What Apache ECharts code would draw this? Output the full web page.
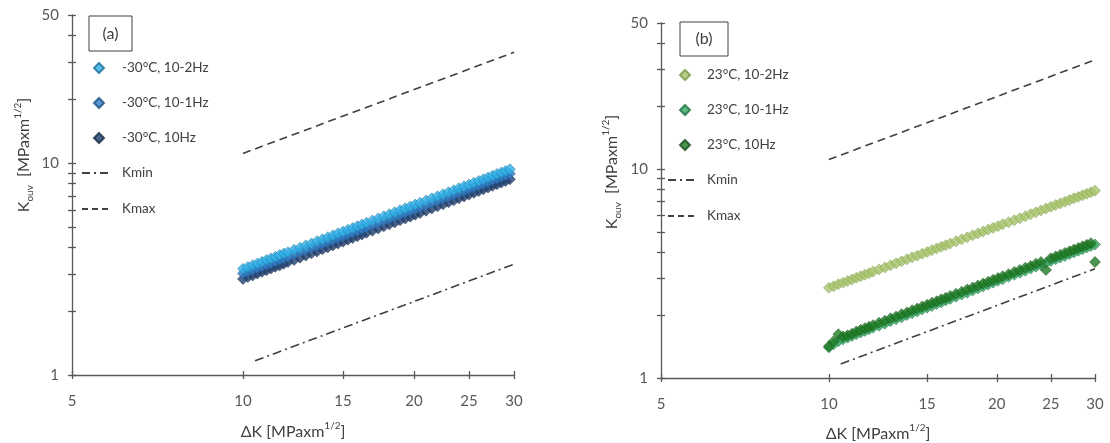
<!DOCTYPE html>
<html><head><meta charset="utf-8">
<script src="https://cdn.jsdelivr.net/npm/echarts@6/dist/echarts.min.js"></script>
<style>html,body{margin:0;padding:0;background:#fff}#c{width:1110px;height:443px}</style>
</head><body><div id="c"></div>
<script>
// ---- data ----
const xTicks = [5, 10, 15, 20, 25, 30];
const yLabels = [1, 10, 50];
const yTicks = [1, 2, 3, 4, 5, 6, 7, 8, 9, 10, 20, 30, 40, 50];

const namesA = ['-30°C, 10-2Hz', '-30°C, 10-1Hz', '-30°C, 10Hz'];
const namesB = ['23°C, 10-2Hz', '23°C, 10-1Hz', '23°C, 10Hz'];

const dKa = [10.0,10.2,10.4,10.6,10.8,11.0,11.2,11.4,11.6,11.8,12.0,12.3,12.6,12.9,13.2,13.5,13.8,14.1,14.4,14.7,15.0,15.3,15.6,15.9,16.2,16.5,16.9,17.3,17.7,18.1,18.5,18.9,19.3,19.7,20.1,20.5,21.0,21.5,22.0,22.5,23.0,23.5,24.0,24.5,25.0,25.5,26.0,26.5,27.0,27.5,28.0,28.5,29.0,29.5];
const Ka_2Hz = [3.17,3.23,3.30,3.36,3.42,3.49,3.55,3.61,3.68,3.74,3.80,3.90,3.99,4.09,4.18,4.28,4.37,4.47,4.56,4.66,4.75,4.85,4.94,5.04,5.13,5.23,5.36,5.48,5.61,5.74,5.86,5.99,6.12,6.24,6.37,6.50,6.66,6.82,6.97,7.13,7.29,7.45,7.61,7.77,7.92,8.08,8.24,8.40,8.56,8.72,8.88,9.03,9.19,9.35];
const Ka_1Hz = [3.01,3.07,3.13,3.19,3.25,3.31,3.37,3.43,3.49,3.55,3.61,3.70,3.80,3.89,3.98,4.07,4.16,4.25,4.34,4.43,4.52,4.61,4.70,4.79,4.88,4.97,5.09,5.21,5.34,5.46,5.58,5.70,5.82,5.94,6.06,6.18,6.33,6.48,6.63,6.79,6.94,7.09,7.24,7.39,7.54,7.69,7.84,7.99,8.14,8.30,8.45,8.60,8.75,8.90];
const Ka_10Hz = [2.84,2.90,2.95,3.01,3.07,3.12,3.18,3.24,3.29,3.35,3.41,3.49,3.58,3.66,3.75,3.83,3.92,4.00,4.09,4.17,4.26,4.35,4.43,4.52,4.60,4.69,4.80,4.91,5.03,5.14,5.25,5.37,5.48,5.59,5.71,5.82,5.96,6.11,6.25,6.39,6.53,6.67,6.82,6.96,7.10,7.24,7.38,7.53,7.67,7.81,7.95,8.09,8.24,8.38];

const dKb = [10.0,10.2,10.4,10.6,10.8,11.0,11.2,11.4,11.6,11.8,12.0,12.3,12.6,12.9,13.2,13.5,13.8,14.1,14.4,14.7,15.0,15.3,15.6,15.9,16.2,16.5,16.9,17.3,17.7,18.1,18.5,18.9,19.3,19.7,20.1,20.5,21.0,21.5,22.0,22.5,23.0,23.5,24.0,24.5,25.0,25.5,26.0,26.5,27.0,27.5,28.0,28.5,29.0,29.5,30.0];
const Kb_2Hz = [2.70,2.75,2.81,2.86,2.91,2.96,3.02,3.07,3.12,3.17,3.23,3.31,3.38,3.46,3.54,3.62,3.70,3.78,3.85,3.93,4.01,4.09,4.17,4.25,4.32,4.40,4.51,4.61,4.71,4.82,4.92,5.02,5.13,5.23,5.33,5.44,5.57,5.69,5.82,5.95,6.08,6.21,6.34,6.47,6.60,6.72,6.85,6.98,7.11,7.24,7.36,7.49,7.62,7.75,7.88];
const Kb_1Hz = [1.40,1.45,1.50,1.53,1.56,1.59,1.62,1.65,1.68,1.71,1.74,1.78,1.82,1.87,1.91,1.95,2.00,2.04,2.08,2.13,2.17,2.21,2.26,2.30,2.35,2.39,2.45,2.51,2.56,2.62,2.68,2.74,2.80,2.86,2.92,2.97,3.05,3.12,3.19,3.26,3.34,3.41,3.48,3.55,3.63,3.70,3.77,3.84,3.92,3.99,4.06,4.13,4.21,4.28,4.35];
const Kb_10Hz = [1.42,1.50,1.62,1.58,1.60,1.63,1.67,1.70,1.73,1.76,1.79,1.84,1.88,1.93,1.97,2.02,2.06,2.11,2.15,2.20,2.24,2.29,2.33,2.38,2.42,2.47,2.53,2.59,2.65,2.71,2.77,2.83,2.89,2.95,3.01,3.07,3.14,3.22,3.29,3.37,3.44,3.52,3.59,3.29,3.74,3.82,3.89,3.97,4.04,4.12,4.19,4.27,4.34,4.42,3.59];

const KminX = [10.5, 30];
const KminY = [1.167, 3.333];
const KmaxX = [10, 30];
const KmaxY = [11.11, 33.33];

// ---- styling ----
const FONT = 'Lato, "Open Sans", sans-serif';
const AX = '#595959';
const colA = [['#2FB0E8','#1c6f93'], ['#2F7CC6','#1b4f80'], ['#22406F','#142846']];
const colB = [['#A6C46C','#7b9649'], ['#33A862','#1f6e3e'], ['#1F7A24','#134e16']];
const pairs = (xs, ys) => xs.map((x, i) => [x, ys[i]]);

function xAx(g, inner) {
  return {
    type: 'log', logBase: 10, gridIndex: g, min: 5, max: 30, position: 'bottom',
    axisLine: { show: !inner, lineStyle: { color: AX, width: 1.3 } },
    axisTick: { show: true, inside: !!inner, length: 4, customValues: xTicks, lineStyle: { color: AX, width: 1.3 } },
    axisLabel: { show: !inner, customValues: xTicks, margin: 19, color: AX, fontSize: 15, fontFamily: FONT,
      formatter: v => String(Math.round(v)) },
    splitLine: { show: false }, minorTick: { show: false }
  };
}
function yAx(g, inner) {
  return {
    type: 'log', logBase: 10, gridIndex: g, min: 1, max: 50, position: 'left',
    axisLine: { show: !inner, lineStyle: { color: AX, width: 1.3 } },
    axisTick: { show: true, inside: !!inner, length: 4, customValues: yTicks, lineStyle: { color: AX, width: 1.3 } },
    axisLabel: { show: !inner, customValues: yLabels, margin: 13, color: AX, fontSize: 15, fontFamily: FONT,
      formatter: v => String(Math.round(v)) },
    splitLine: { show: false }, minorTick: { show: false }
  };
}
function scat(name, data, col, xi, yi) {
  return { type: 'scatter', name, data, xAxisIndex: xi, yAxisIndex: yi, symbol: 'diamond', symbolSize: 11,
    itemStyle: { color: col[0], borderColor: col[1], borderWidth: 0.6 }, z: 3 };
}
function lin(name, xs, ys, dash, xi, yi) {
  return { type: 'line', name, data: pairs(xs, ys), xAxisIndex: xi, yAxisIndex: yi, symbol: 'none',
    lineStyle: { color: '#404040', width: 1.6, type: dash }, itemStyle: { color: '#404040' }, z: 2 };
}
const DASH_MIN = [9, 4, 2, 4];
const DASH_MAX = [8, 5];

const rich = {
  k: { fontSize: 16, fontFamily: FONT, color: '#404040', lineHeight: 22 },
  sub: { fontSize: 10, fontFamily: FONT, color: '#404040', verticalAlign: 'bottom', lineHeight: 22 },
  sup: { fontSize: 10, fontFamily: FONT, color: '#404040', verticalAlign: 'top', lineHeight: 22 }
};
function title(x, y, text, rot) {
  return { type: 'text', x, y, rotation: rot || 0,
    style: { text, rich, align: 'center', verticalAlign: 'middle', fill: '#404040', font: '16px ' + FONT } };
}
function box(x, y, w, h, label) {
  return [
    { type: 'rect', shape: { x, y, width: w, height: h }, style: { fill: '#fff', stroke: '#404040', lineWidth: 1 }, z: 10 },
    { type: 'text', x: x + w / 2, y: y + h / 2, z: 11,
      style: { text: label, align: 'center', verticalAlign: 'middle', fill: '#404040', font: '16px ' + FONT } }
  ];
}
const legText = pad => ({ color: '#404040', fontSize: 13.5, fontFamily: FONT, lineHeight: 16, padding: [0, 0, 0, pad] });
function legendScatter(names, left, top, pad) {
  return { data: names, orient: 'vertical', left, top, padding: 0, itemWidth: 10, itemHeight: 10, itemGap: 19,
    selectedMode: false, textStyle: legText(pad) };
}
function legendLines(left, top, pad) {
  return { data: [{ name: 'Kmin', lineStyle: { type: [8, 4, 2, 4] } }, { name: 'Kmax', lineStyle: { type: [6, 4] } }],
    orient: 'vertical', left, top, padding: 0, itemWidth: 28, itemHeight: 10, itemGap: 20,
    itemStyle: { opacity: 0 }, selectedMode: false, textStyle: legText(pad) };
}

const chart = echarts.init(document.getElementById('c'), null, { renderer: 'canvas' });
chart.setOption({
  backgroundColor: '#fff',
  animation: false,
  grid: [
    { left: 72, top: 15, width: 442, height: 360 },
    { left: 661, top: 23, width: 434, height: 355 }
  ],
  xAxis: [xAx(0), xAx(1), xAx(0, true), xAx(1, true)],
  yAxis: [yAx(0), yAx(1), yAx(0, true), yAx(1, true)],
  legend: [
    legendScatter(namesA, 93, 60, 13),
    legendLines(81, 165, 7),
    legendScatter(namesB, 679, 67, 12),
    legendLines(667, 172, 6)
  ],
  series: [
    lin('Kmin', KminX, KminY, DASH_MIN, 0, 0),
    lin('Kmax', KmaxX, KmaxY, DASH_MAX, 0, 0),
    scat(namesA[2], pairs(dKa, Ka_10Hz), colA[2], 0, 0),
    scat(namesA[1], pairs(dKa, Ka_1Hz), colA[1], 0, 0),
    scat(namesA[0], pairs(dKa, Ka_2Hz), colA[0], 0, 0),
    lin('Kmin', KminX, KminY, DASH_MIN, 1, 1),
    lin('Kmax', KmaxX, KmaxY, DASH_MAX, 1, 1),
    scat(namesB[0], pairs(dKb, Kb_2Hz), colB[0], 1, 1),
    scat(namesB[1], pairs(dKb, Kb_1Hz), colB[1], 1, 1),
    scat(namesB[2], pairs(dKb, Kb_10Hz), colB[2], 1, 1)
  ],
  graphic: [
    title(293, 432, '{k|ΔK [MPaxm}{sup|1/2}{k|]}'),
    title(878, 434, '{k|ΔK [MPaxm}{sup|1/2}{k|]}'),
    title(24, 155, '{k|K}{sub|ouv}{k|  [MPaxm}{sup|1/2}{k|]}', Math.PI / 2),
    title(612, 172, '{k|K}{sub|ouv}{k|  [MPaxm}{sup|1/2}{k|]}', Math.PI / 2),
    ...box(89, 16, 43, 35, '(a)'),
    ...box(680, 22, 48, 34, '(b)')
  ]
});
</script></body></html>
